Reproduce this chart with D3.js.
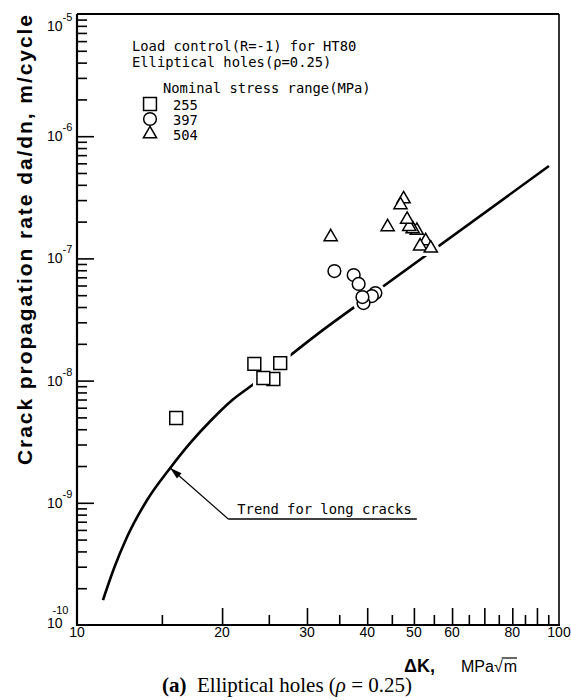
<!DOCTYPE html>
<html>
<head>
<meta charset="utf-8">
<script src="https://cdn.jsdelivr.net/npm/d3@7/dist/d3.min.js"></script>
<style>
  body { margin: 0; background: #fff; }
  svg { display: block; }
  .mono { font-family: "DejaVu Sans Mono", monospace; font-size: 13.8px; }
  .sans { font-family: "Liberation Sans", Arial, sans-serif; }
  .serif { font-family: "Liberation Serif", "Times New Roman", serif; }
</style>
</head>
<body>
<div id="chart"></div>
<script>
// tick values
const xLabelTicks = [10, 20, 30, 40, 50, 60, 80, 100];
const xMajorTicks = [20, 30, 40, 50, 60, 70, 80, 90];
const xMinorTicks = [15, 25, 35, 45, 55, 65, 75, 85, 95];
const yDecades = [-10, -9, -8, -7, -6, -5];

// trend for long cracks
const trendK = [11.32, 11.94, 12.70, 13.98, 15.61, 17.18, 19.09, 21.0, 23.11, 32.4, 43.0, 95.3];
const trendRate = [1.60e-10, 2.93e-10, 5.25e-10, 1.054e-9, 1.926e-9, 3.09e-9, 4.85e-9, 6.94e-9, 9.2e-9, 2.6e-8, 5.83e-8, 5.7e-7];

// nominal stress range 255 MPa
const k255 = [16.06, 26.4, 25.55, 23.33, 24.36];
const r255 = [4.94e-9, 1.39e-8, 1.03e-8, 1.37e-8, 1.05e-8];
// 397 MPa
const k397 = [34.2, 37.5, 38.4, 41.6, 40.9, 39.3, 39.1];
const r397 = [7.88e-8, 7.31e-8, 6.18e-8, 5.21e-8, 4.92e-8, 4.31e-8, 4.83e-8];
// 504 MPa
const k504 = [33.6, 44.1, 47.6, 46.9, 50.7, 49.7, 48.9, 48.4, 52.9, 51.5, 54.2];
const r504 = [1.50e-7, 1.81e-7, 3.06e-7, 2.74e-7, 1.69e-7, 1.74e-7, 1.82e-7, 2.08e-7, 1.39e-7, 1.26e-7, 1.21e-7];

const legendLabels = ["255", "397", "504"];

const W = 571, H = 700;
const margin = {left: 77, right: 559, top: 14, bottom: 625};

const svg = d3.select("#chart").append("svg")
    .attr("width", W).attr("height", H);

svg.append("rect").attr("width", W).attr("height", H).attr("fill", "#fff");

const x = d3.scaleLog().domain([10, 100]).range([margin.left, margin.right]);
const y = d3.scaleLog().domain([1e-10, 1e-5]).range([margin.bottom, margin.top]);

// ticks inside the frame
const xMajor = d3.axisBottom(x).tickValues(xMajorTicks).tickSize(-17).tickFormat("");
const xMinor = d3.axisBottom(x).tickValues(xMinorTicks).tickSize(-10).tickFormat("");
svg.append("g").attr("transform", "translate(0," + margin.bottom + ")").call(xMajor);
svg.append("g").attr("transform", "translate(0," + margin.bottom + ")").call(xMinor);

let yMinorVals = [];
yDecades.slice(0, -1).forEach(function (e) {
    for (let m = 2; m <= 9; m++) yMinorVals.push(m * Math.pow(10, e));
});
const yMajor = d3.axisLeft(y).tickValues(yDecades.slice(1, -1).map(e => Math.pow(10, e))).tickSize(-17).tickFormat("");
const yMinor = d3.axisLeft(y).tickValues(yMinorVals).tickSize(-10).tickFormat("");
svg.append("g").attr("transform", "translate(" + margin.left + ",0)").call(yMajor);
svg.append("g").attr("transform", "translate(" + margin.left + ",0)").call(yMinor);

svg.selectAll(".domain").remove();
svg.selectAll(".tick line").attr("stroke", "#000").attr("stroke-width", 1.6);

// frame
svg.append("line").attr("x1", margin.left).attr("x2", margin.left).attr("y1", margin.top).attr("y2", margin.bottom)
    .attr("stroke", "#000").attr("stroke-width", 2.2);
svg.append("line").attr("x1", margin.left - 1).attr("x2", margin.right + 1).attr("y1", margin.bottom).attr("y2", margin.bottom)
    .attr("stroke", "#000").attr("stroke-width", 2.2);
svg.append("line").attr("x1", margin.left).attr("x2", margin.right).attr("y1", margin.top).attr("y2", margin.top)
    .attr("stroke", "#000").attr("stroke-width", 1.8);
svg.append("line").attr("x1", margin.right).attr("x2", margin.right).attr("y1", margin.top).attr("y2", margin.bottom)
    .attr("stroke", "#000").attr("stroke-width", 1.6);

// x tick labels
svg.selectAll(".xlab").data(xLabelTicks).enter().append("text")
    .attr("class", "sans")
    .attr("x", d => x(d))
    .attr("y", 637)
    .attr("text-anchor", "middle")
    .attr("font-size", 14)
    .text(d => d);

// y tick labels 10^n
const ylab = svg.selectAll(".ylab").data(yDecades).enter().append("text")
    .attr("class", "sans")
    .attr("font-size", 14)
    .attr("transform", function (d) {
        let yy = y(Math.pow(10, d)) + 5;
        if (d === -5) yy = 31;
        if (d === -10) yy = 628;
        return "translate(" + 47 + "," + yy + ")";
    });
ylab.append("tspan").text("10");
ylab.append("tspan")
    .attr("font-size", 11)
    .attr("dx", d => d === -10 ? -10 : 0)
    .attr("dy", d => d === -10 ? -14 : -10)
    .text(d => "-" + (-d));

// y axis title
svg.append("text")
    .attr("class", "sans")
    .attr("font-weight", "bold")
    .attr("font-size", 21)
    .attr("transform", "translate(32,465) rotate(-90)")
    .attr("textLength", 450)
    .attr("lengthAdjust", "spacing")
    .text("Crack  propagation  rate  da/dn,  m/cycle");

// x axis title
svg.append("text").attr("class", "sans")
    .attr("x", 404).attr("y", 672)
    .attr("font-weight", "bold").attr("font-size", 18)
    .text("\u0394K,");
const unit = svg.append("text").attr("class", "sans")
    .attr("x", 461).attr("y", 672)
    .attr("font-size", 16);
unit.append("tspan").attr("id", "unitHead").text("MPa\u221A");
unit.append("tspan").attr("id", "unitM").attr("dx", 1).text("m");
const headW = document.getElementById("unitHead").getComputedTextLength();
const mW = document.getElementById("unitM").getComputedTextLength();
svg.append("line")
    .attr("x1", 461 + headW - 1).attr("x2", 461 + headW + mW + 1)
    .attr("y1", 658).attr("y2", 658)
    .attr("stroke", "#000").attr("stroke-width", 1.2);

// caption
const cap = svg.append("text").attr("class", "serif")
    .attr("x", 287).attr("y", 692)
    .attr("text-anchor", "middle")
    .attr("font-size", 21);
cap.append("tspan").attr("font-weight", "bold").text("(a)");
cap.append("tspan").text("\u00A0\u00A0Elliptical holes (");
cap.append("tspan").attr("font-style", "italic").text("\u03C1");
cap.append("tspan").text(" = 0.25)");

// trend curve
const trend = trendK.map((k, i) => [k, trendRate[i]]);
const line = d3.line()
    .x(d => x(d[0]))
    .y(d => y(d[1]))
    .curve(d3.curveMonotoneX);
svg.append("path")
    .datum(trend)
    .attr("d", line)
    .attr("fill", "none")
    .attr("stroke", "#000")
    .attr("stroke-width", 2.6);

// markers
const symSquare = d3.symbol().type(d3.symbolSquare).size(165);
const symCircle = d3.symbol().type(d3.symbolCircle).size(127);
const symTriangle = d3.symbol().type(d3.symbolTriangle).size(75);

const groups = [
    {k: k255, r: r255, sym: symSquare},
    {k: k397, r: r397, sym: symCircle},
    {k: k504, r: r504, sym: symTriangle}
];

// white halo first, so the trend line breaks around the points
groups.forEach(function (g) {
    svg.append("g").selectAll("path").data(g.k).enter().append("path")
        .attr("d", g.sym())
        .attr("transform", (d, i) => "translate(" + x(d) + "," + y(g.r[i]) + ")")
        .attr("fill", "#fff")
        .attr("stroke", "#fff")
        .attr("stroke-width", 8);
});
groups.forEach(function (g) {
    svg.append("g").selectAll("path").data(g.k).enter().append("path")
        .attr("d", g.sym())
        .attr("transform", (d, i) => "translate(" + x(d) + "," + y(g.r[i]) + ")")
        .attr("fill", "#fff")
        .attr("stroke", "#000")
        .attr("stroke-width", 1.5);
});

// legend
svg.append("text").attr("class", "mono").attr("x", 132).attr("y", 51)
    .text("Load control(R=-1) for HT80");
svg.append("text").attr("class", "mono").attr("x", 132).attr("y", 67)
    .text("Elliptical holes(\u03C1=0.25)");
svg.append("text").attr("class", "mono").attr("x", 163).attr("y", 93)
    .text("Nominal stress range(MPa)");
const legSyms = [symSquare, symCircle, symTriangle];
legendLabels.forEach(function (lab, i) {
    const ly = 104 + i * 15;
    svg.append("path")
        .attr("d", legSyms[i]())
        .attr("transform", "translate(150," + ly + ")")
        .attr("fill", "#fff").attr("stroke", "#000").attr("stroke-width", 1.5);
    svg.append("text").attr("class", "mono").attr("x", 173).attr("y", ly + 6).text(lab);
});

// annotation: trend for long cracks
const tipK = 15.61, tipR = 1.926e-9;
const tailK = 20.6, tailR = 7.37e-10;
const endK = 50.7;
const tx = x(tipK), ty = y(tipR), ax = x(tailK), ay = y(tailR);
svg.append("line").attr("x1", ax).attr("y1", ay).attr("x2", x(endK)).attr("y2", ay)
    .attr("stroke", "#000").attr("stroke-width", 1.3);
svg.append("line").attr("x1", ax).attr("y1", ay).attr("x2", tx).attr("y2", ty)
    .attr("stroke", "#000").attr("stroke-width", 1.2);
const ang = Math.atan2(ay - ty, ax - tx);
const aLen = 12, aW = 3.5;
const p1 = [tx + aLen * Math.cos(ang) - aW * Math.sin(ang), ty + aLen * Math.sin(ang) + aW * Math.cos(ang)];
const p2 = [tx + aLen * Math.cos(ang) + aW * Math.sin(ang), ty + aLen * Math.sin(ang) - aW * Math.cos(ang)];
svg.append("path")
    .attr("d", "M" + tx + "," + ty + "L" + p1 + "L" + p2 + "Z")
    .attr("fill", "#000");
svg.append("text").attr("class", "mono").attr("x", ax + 9).attr("y", ay - 5)
    .text("Trend for long cracks");
</script>
</body>
</html>
